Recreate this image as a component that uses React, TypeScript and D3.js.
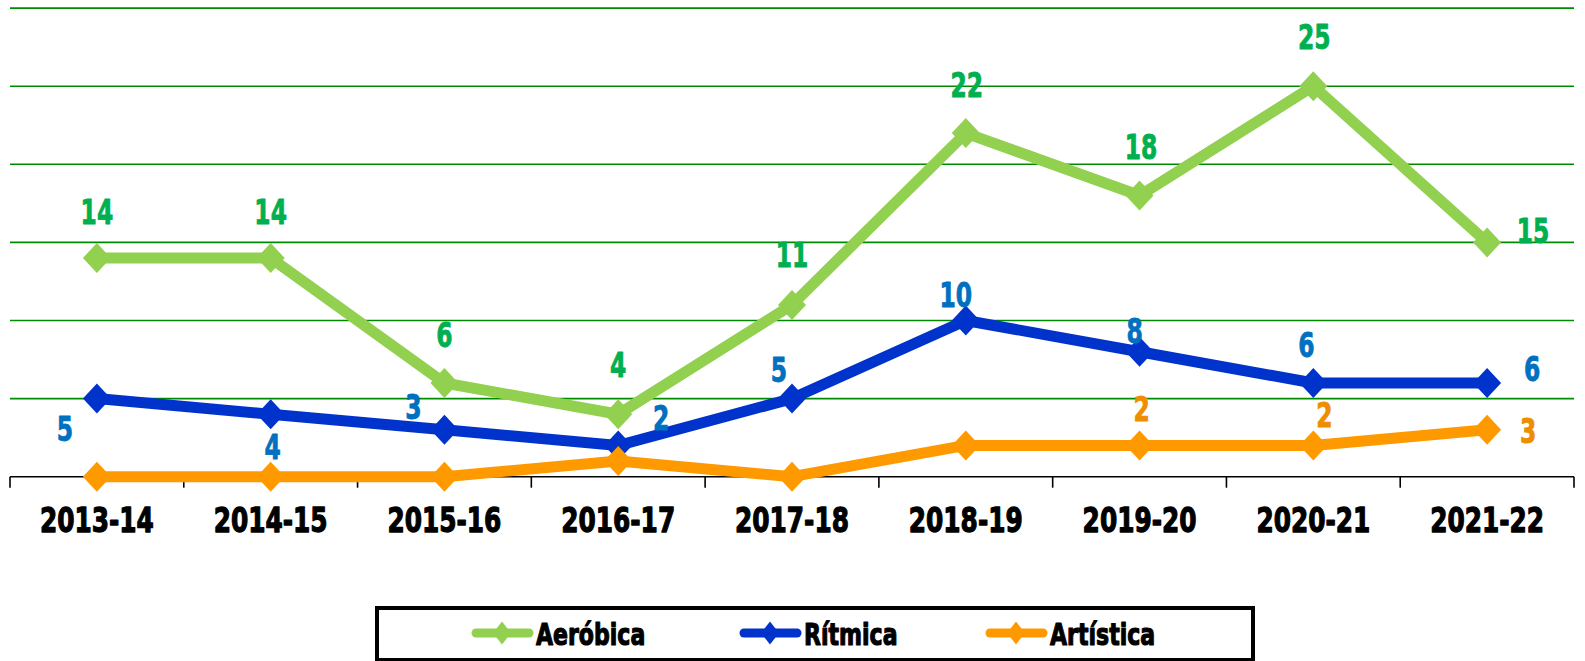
import React from "react";
import * as d3 from "d3";

const categories = ["2013-14", "2014-15", "2015-16", "2016-17", "2017-18", "2018-19", "2019-20", "2020-21", "2021-22"];
const aerobica = [14, 14, 6, 4, 11, 22, 18, 25, 15];
const ritmica = [5, 4, 3, 2, 5, 10, 8, 6, 6];
const artistica = [0, 0, 0, 1, 0, 2, 2, 2, 3];
const yTicks = [0, 5, 10, 15, 20, 25, 30];

// label placement offsets (dx from point to label centre, dy from point to baseline); null = no label
const aeroLabelPos: ([number, number] | null)[] = [[0, -34], [0, -34], [0, -36], [0, -37], [0, -38], [1, -36], [1.5, -37], [1, -37], [46, 1]];
const ritLabelPos: ([number, number] | null)[] = [[-32, 42], [2, 45], [-31, -10.5], [43, -15], [-13, -17], [-10, -14], [-5, -9], [-7, -25.6], [45, -2]];
const artLabelPos: ([number, number] | null)[] = [null, null, null, null, null, null, [2, -24], [11, -18], [41, 13.5]];

const W = 1585;
const H = 661;
const FONT = "'DejaVu Sans', 'Liberation Sans', sans-serif";

const series = [
  { name: "Aeróbica", values: aerobica, line: "#92D050", label: "#00B050", pos: aeroLabelPos, lx: 472 },
  { name: "Rítmica", values: ritmica, line: "#0033CC", label: "#0070C0", pos: ritLabelPos, lx: 740 },
  { name: "Artística", values: artistica, line: "#FF9900", label: "#EF8D00", pos: artLabelPos, lx: 986 },
];

function diamond(cx: number, cy: number, hw: number, hh: number) {
  return `M${cx},${cy - hh}L${cx + hw},${cy}L${cx},${cy + hh}L${cx - hw},${cy}Z`;
}

function CText({ x, y, sx, size, fill, anchor, sw, children }: any) {
  return (
    <text
      transform={`translate(${x},${y}) scale(${sx},1)`}
      fontFamily={FONT}
      fontWeight="bold"
      fontSize={size}
      fill={fill}
      stroke={fill}
      strokeWidth={sw}
      strokeLinejoin="round"
      textAnchor={anchor}
    >
      {children}
    </text>
  );
}

export default function App() {
  const x = d3.scaleBand<string>().domain(categories).range([10, 1574]).padding(0);
  const y = d3.scaleLinear().domain([0, 30]).range([476.7, 8.1]);
  const cx = (c: string) => (x(c) as number) + x.bandwidth() / 2;
  const line = d3
    .line<number>()
    .x((_, i) => cx(categories[i]))
    .y((d) => y(d));

  const boundaries = categories.map((c) => x(c) as number).concat([1574]);

  return (
    <svg width={W} height={H} style={{ position: "absolute", left: 0, top: 0, display: "block" }}>
      <rect width={W} height={H} fill="#fff" />
      {yTicks.filter((t) => t > 0).map((t) => (
        <line key={t} x1={10} x2={1574} y1={y(t)} y2={y(t)} stroke="#008A00" strokeWidth={1.6} />
      ))}
      <line x1={10} x2={1574} y1={y(0)} y2={y(0)} stroke="#000" strokeWidth={1.6} />
      {boundaries.map((b, i) => (
        <line key={i} x1={b} x2={b} y1={y(0)} y2={y(0) + 11} stroke="#000" strokeWidth={1.6} />
      ))}
      {categories.map((c) => (
        <CText key={c} x={cx(c)} y={532} sx={0.73} size={34} fill="#000" anchor="middle" sw={1.3}>
          {c}
        </CText>
      ))}
      {series.map((s) => (
        <g key={s.name}>
          <path d={line(s.values) as string} fill="none" stroke={s.line} strokeWidth={11} strokeLinejoin="round" />
          {s.values.map((v, i) => (
            <path key={i} d={diamond(cx(categories[i]), y(v), 14, 15)} fill={s.line} />
          ))}
        </g>
      ))}
      {series.map((s) => (
        <g key={s.name + "-labels"}>
          {s.values.map((v, i) => {
            const p = s.pos[i];
            if (!p) return null;
            return (
              <CText key={i} x={cx(categories[i]) + p[0]} y={y(v) + p[1]} sx={0.71} size={33} fill={s.label} anchor="middle" sw={0.9}>
                {v}
              </CText>
            );
          })}
        </g>
      ))}
      <rect x={377} y={608} width={876} height={52} fill="#fff" stroke="#000" strokeWidth={4} />
      {series.map((s) => (
        <g key={s.name + "-legend"}>
          <line x1={s.lx + 4} x2={s.lx + 57} y1={633} y2={633} stroke={s.line} strokeWidth={9} strokeLinecap="round" />
          <path d={diamond(s.lx + 30, 633, 9, 11.5)} fill={s.line} />
          <CText x={s.lx + 64} y={645} sx={0.735} size={30} fill="#000" anchor="start" sw={1.2}>
            {s.name}
          </CText>
        </g>
      ))}
    </svg>
  );
}
